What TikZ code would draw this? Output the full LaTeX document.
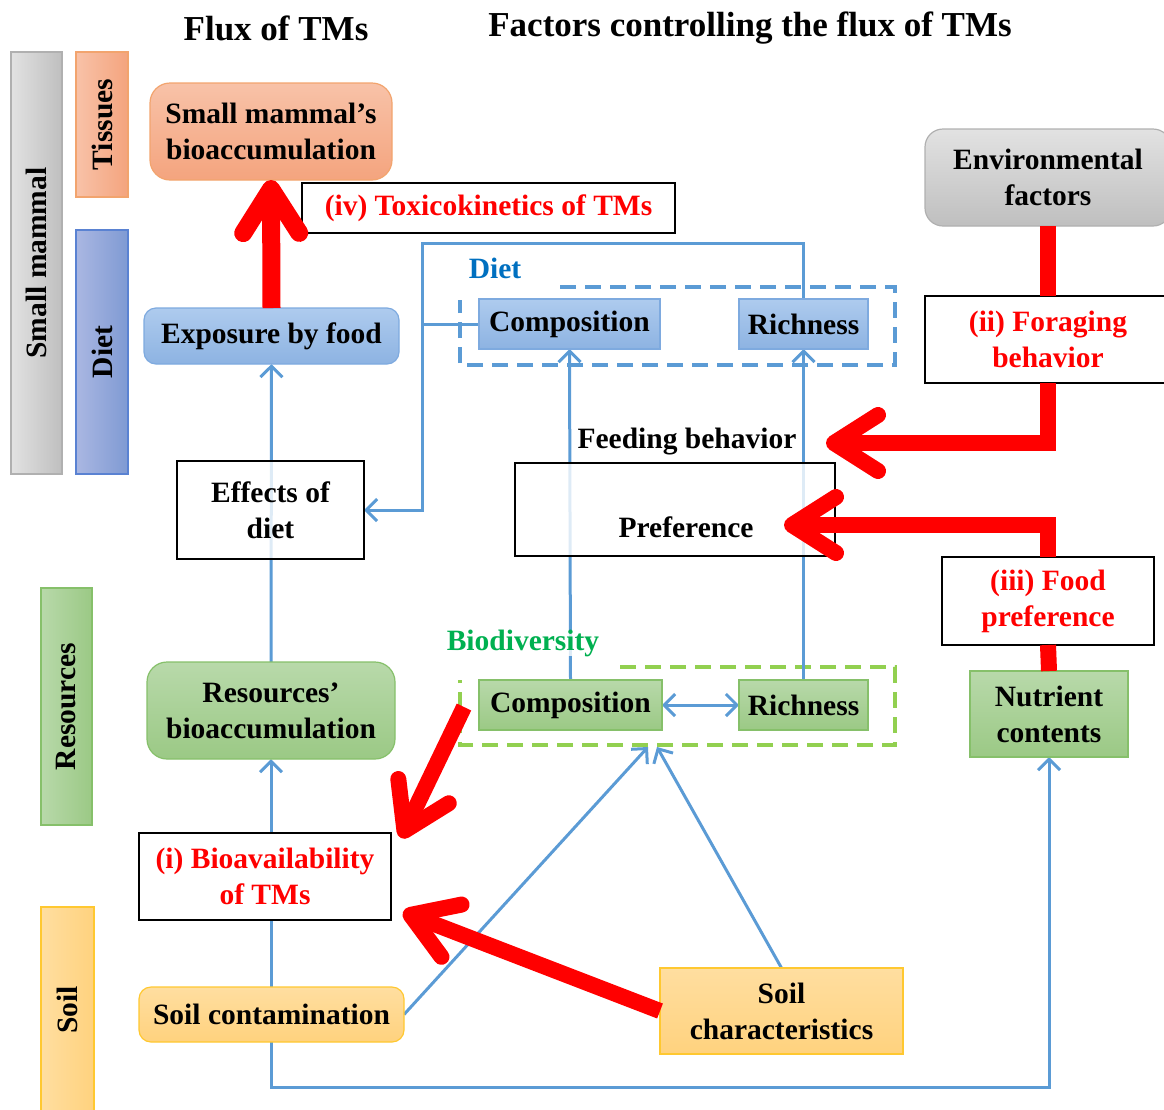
\documentclass[tikz,border=0pt]{standalone}
\usepackage{fontspec}
\setmainfont{Liberation Serif}
\usetikzlibrary{arrows.meta}

\pgfdeclarelayer{background}
\pgfsetlayers{background,main}

\definecolor{lineblue}{HTML}{5B9BD5}
\definecolor{dietblue}{HTML}{0070C0}
\definecolor{biogreen}{HTML}{00B050}
\definecolor{tmred}{HTML}{FF0000}
\definecolor{orangetop}{HTML}{F8C2A8}
\definecolor{orangebot}{HTML}{F4A47E}
\definecolor{orangeline}{HTML}{F2A46E}
\definecolor{bluetop}{HTML}{AECBEE}
\definecolor{bluebot}{HTML}{8DB3E2}
\definecolor{blueedge}{HTML}{7EAADF}
\definecolor{dietleft}{HTML}{AAB7E2}
\definecolor{dietright}{HTML}{7F9AD3}
\definecolor{dietedge}{HTML}{5A82D2}
\definecolor{greentop}{HTML}{B8D9AA}
\definecolor{greenbot}{HTML}{9BC985}
\definecolor{greenedge}{HTML}{86C06A}
\definecolor{yellowtop}{HTML}{FFDEA0}
\definecolor{yellowbot}{HTML}{FFD27E}
\definecolor{yellowedge}{HTML}{FFC830}
\definecolor{graytop}{HTML}{E2E2E2}
\definecolor{graybot}{HTML}{BFBFBF}
\definecolor{grayedge}{HTML}{B0B0B0}
\definecolor{dashgreen}{HTML}{92D050}

\tikzset{
  txt/.style={font=\bfseries\fontsize{29.5}{36}\selectfont},
  headline/.style={font=\bfseries\fontsize{35}{40}\selectfont},
  % factor boxes (white, black frame)
  factorbox/.style={draw=black, line width=1.8pt, fill=white, txt},
  % coloured boxes
  orangebox/.style={draw=orangeline, line width=1.2pt, top color=orangetop, bottom color=orangebot, txt},
  bluebox/.style={draw=blueedge, line width=1.2pt, top color=bluetop, bottom color=bluebot, txt},
  greenbox/.style={draw=greenedge, line width=1.2pt, top color=greentop, bottom color=greenbot, txt},
  yellowbox/.style={draw=yellowedge, line width=1.2pt, top color=yellowtop, bottom color=yellowbot, txt},
  graybox/.style={draw=grayedge, line width=1.2pt, top color=graytop, bottom color=graybot, txt},
  % side bars
  sidebar/.style={line width=1.2pt, minimum width=#1},
  % connectors
  blueline/.style={draw=lineblue, line width=3pt},
  bluetip/.style={-{Straight Barb[length=11pt, width=22pt]}},
  groupbox/.style={line width=3.2pt, dash pattern=on 16pt off 9pt},
  redline/.style={draw=tmred, line width=16pt},
  redtip/.style={-{Straight Barb[length=44pt, width=56pt, line cap=round, line join=round]}},
}

\begin{document}
\begin{tikzpicture}[
  x=1pt, y=-1pt,
  every node/.style={inner sep=0pt, outer sep=0pt, align=center},
]
\useasboundingbox (0,0) rectangle (1164,1109);

% Column titles
\node[headline] (fluxhead) at (276,28) {Flux of TMs};
\node[headline] (factorhead) at (750,28) {Factors controlling the flux of TMs};

% Side bars
\node[draw=grayedge, left color=graytop, right color=graybot, sidebar=51pt, minimum height=422pt] (barmammal) at (36.5,263) {};
\node[draw=orangeline, left color=orangetop, right color=orangebot, sidebar=52pt, minimum height=145pt] (bartissue) at (102,124.5) {};
\node[draw=dietedge, left color=dietleft, right color=dietright, sidebar=52pt, minimum height=244pt] (bardiet) at (102,352) {};
\node[draw=greenedge, left color=greentop, right color=greenbot, sidebar=51pt, minimum height=237pt] (barres) at (66.5,706.5) {};
\node[draw=yellowedge, left color=yellowtop, right color=yellowbot, sidebar=53pt, minimum height=220pt] (barsoil) at (67.5,1017) {};
\node[txt, rotate=90] (lblmammal) at (barmammal.center) {Small mammal};
\node[txt, rotate=90] (lbltissue) at (bartissue.center) {Tissues};
\node[txt, rotate=90] (lbldiet) at (bardiet.center) {Diet};
\node[txt, rotate=90] (lblres) at (barres.center) {Resources};
\node[txt, rotate=90] (lblsoil) at (67.5,1010) {Soil};

% Flux of TMs column
\node[orangebox, rounded corners=20pt, minimum width=242pt, minimum height=97pt] (mammal) at (271,131.5) {Small mammal's\\bioaccumulation};
\node[factorbox, text=tmred, minimum width=373pt, minimum height=50pt] (toxico) at (488.5,208) {(iv) Toxicokinetics of TMs};
\node[bluebox, rounded corners=12pt, minimum width=255pt, minimum height=56pt] (expo) at (271.5,336) {Exposure by food};
\node[factorbox, fill opacity=0.8, text opacity=1, minimum width=187pt, minimum height=98pt] (effects) at (270.5,510) {Effects of\\diet};
\node[greenbox, rounded corners=20pt, minimum width=248pt, minimum height=97pt] (resacc) at (271,710.5) {Resources'\\bioaccumulation};
\node[factorbox, text=tmred, minimum width=252pt, minimum height=87pt] (bioav) at (265,876.5) {(i) Bioavailability\\of TMs};
\node[yellowbox, rounded corners=12pt, minimum width=265pt, minimum height=55pt] (soilcont) at (271.5,1014.5) {Soil contamination};

% Diet (feeding behavior)
\node[txt, text=dietblue] (dietlbl) at (495,268) {Diet};
\node[bluebox, minimum width=181pt, minimum height=50pt] (dcomp) at (569.5,324) {Composition};
\node[bluebox, minimum width=129pt, minimum height=50pt] (drich) at (803.5,324) {Richness};
\node[txt] (feeding) at (687,442) {Feeding behavior};
\node[factorbox, fill opacity=0.8, minimum width=320pt, minimum height=93pt] (prefbox) at (675,509.5) {};
\node[txt] (pref) at (686,527) {Preference};

% Biodiversity
\node[txt, text=biogreen, fill=white, fill opacity=0.8, text opacity=1] (biolbl) at (523,643) {Biodiversity};
\node[greenbox, minimum width=183pt, minimum height=50pt] (gcomp) at (570.5,705) {Composition};
\node[greenbox, minimum width=129pt, minimum height=50pt] (grich) at (803.5,705) {Richness};
\node[yellowbox, minimum width=243pt, minimum height=86pt] (soilchar) at (781.5,1011) {Soil\\characteristics};

% Right column
\node[graybox, rounded corners=18pt, minimum width=246pt, minimum height=97pt] (envfac) at (1048,177.5) {Environmental\\factors};
\node[factorbox, text=tmred, minimum width=246pt, minimum height=87pt] (forage) at (1048,339.5) {(ii) Foraging\\behavior};
\node[factorbox, text=tmred, minimum width=212pt, minimum height=88pt] (foodpref) at (1048,601) {(iii) Food\\preference};
\node[greenbox, minimum width=158pt, minimum height=86pt] (nutrient) at (1049,714) {Nutrient\\contents};

% Free ends
\coordinate (dloop) at (422,243);
\coordinate (biodivA) at (648,747);
\coordinate (biodivB) at (657,747);
\coordinate (feedtip) at (826,443);
\coordinate (preftip) at (784,525);
\coordinate (bioAstart) at (464,707);
\coordinate (bioAtip) at (401,838);
\coordinate (bioBtip) at (403,912);

% Blue connectors and dashed groups
\begin{pgfonlayer}{background}
  \draw[draw=lineblue, groupbox]
    (560,287) -- (895,287) -- (895,365) -- (460,365) -- (460,300);
  \draw[draw=dashgreen, groupbox]
    (620,667) -- (895,667) -- (895,745) -- (460,745) -- (460,680);
  \draw[blueline, bluetip] (resacc.north) -- (expo.south);
  \draw[blueline, bluetip] (resacc.south |- bioav.north) -- (resacc.south);
  \draw[blueline] (soilcont.north) -- (soilcont.north |- bioav.south);
  \draw[blueline, bluetip] (soilcont.south) -- ++(0,45) -| (nutrient.south);
  \draw[blueline, bluetip] (soilcont.east) -- (biodivA);
  \draw[blueline, bluetip] (soilchar.north) -- (biodivB);
  \draw[blueline, {Straight Barb[length=11pt, width=22pt]}-{Straight Barb[length=11pt, width=22pt]}] (gcomp.east) -- (grich.west);
  \draw[blueline, bluetip] (gcomp.north) -- (dcomp.south);
  \draw[blueline, bluetip] (grich.north) -- (drich.south);
  \draw[blueline, bluetip] (drich.north) |- (dloop) |- (effects.east);
  \draw[blueline] (dcomp.west) -- (dcomp.west -| dloop);
\end{pgfonlayer}

% Red factor arrows
\draw[redline, line width=18pt, redtip] (expo.north) -- (mammal.south);
\draw[redline] (envfac.south) -- (forage.north);
\draw[redline, redtip] (forage.south) |- (feedtip);
\draw[redline] (nutrient.north) -- (foodpref.south);
\draw[redline, redtip] (foodpref.north) |- (preftip);
\draw[redline, redtip] (bioAstart) -- (bioAtip);
\draw[redline, redtip] (soilchar.west) -- (bioBtip);

\end{tikzpicture}
\end{document}
